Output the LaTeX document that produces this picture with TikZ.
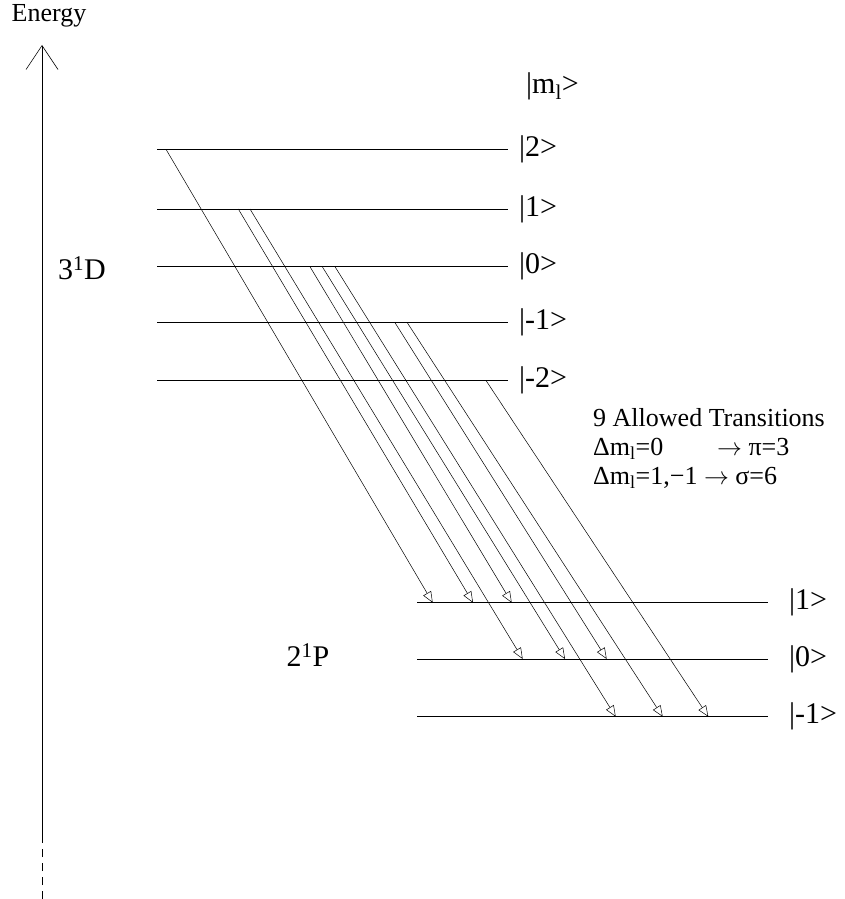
\documentclass[tikz,border=0pt]{standalone}
\usepackage{fontspec}
\setmainfont{Liberation Serif}
\usetikzlibrary{arrows.meta}

\tikzset{
  lvl/.style={line width=0.9pt},
  trans/.style={line width=0.5pt, -{Triangle[open,length=11pt,width=9pt]}},
  ket/.style={anchor=west, inner sep=0pt, font=\fontsize{30}{32}\selectfont},
  term/.style={inner sep=0pt, font=\fontsize{30}{32}\selectfont},
  rules/.style={inner sep=0pt, align=left, font=\fontsize{26}{29}\selectfont},
}

\begin{document}
\begin{tikzpicture}[x=1pt, y=-1pt]
  \useasboundingbox (0,0) rectangle (845,899);

  % energy axis
  \node[inner sep=0pt, font=\fontsize{26}{26}\selectfont] (energy) at (49,16) {Energy};
  \coordinate (axbot) at (42,899);
  \coordinate (axmid) at (42,835);
  \coordinate (axtop) at (42,45);
  \draw[line width=0.6pt, dash pattern=on 8pt off 6pt] (axbot) -- (axmid);
  \draw[line width=0.6pt, -{Straight Barb[length=24pt,width=32pt]}] (axmid) -- (axtop);

  % 3^1D sublevels
  \node[ket] (kml) at (526,86) {|m\textsubscript{l}>};
  \foreach \y/\m [count=\i] in {149.3/2, 209/1, 266.7/0, 322.7/-1, 380.5/-2} {
    \draw[lvl] (157,\y) -- (508,\y);
    \node[ket] (kD\i) at (519,\y) {|\m>};
  }
  \node[term] (termD) at (82,268) {3\textsuperscript{1}D};

  % 2^1P sublevels
  \foreach \y/\m [count=\i] in {602.7/1, 659/0, 716.7/-1} {
    \draw[lvl] (417,\y) -- (768,\y);
    \node[ket] (kP\i) at (789,\y) {|\m>};
  }
  \node[term] (termP) at (308,655) {2\textsuperscript{1}P};

  % the nine transitions
  \foreach \sx/\sy/\ex/\ey [count=\i] in {
      166/149.3/432.7/602.7, 238.3/209/473/602.7, 250/209/522.7/659,
      310/266.7/511.7/602.7, 322.3/266.7/565/659, 335/266.7/615.7/716.7,
      395/322.7/606.7/659, 407.3/322.7/662.7/716.7, 486/380.5/708.3/716.7} {
    \coordinate (s\i) at (\sx,\sy);
    \coordinate (e\i) at (\ex,\ey);
    \draw[trans] (s\i) -- (e\i);
  }

  % selection rules
  \node[rules, anchor=north west] (allowed) at (593,408)
    {9 Allowed Transitions\\
     \makebox[124pt][l]{Δm\textsubscript{l}=0}$\rightarrow$ π=3\\
     Δm\textsubscript{l}=1,−1 $\rightarrow$ σ=6};
\end{tikzpicture}
\end{document}
